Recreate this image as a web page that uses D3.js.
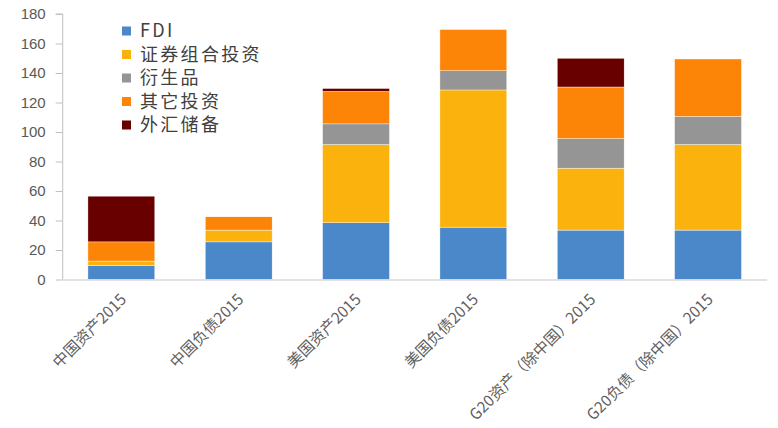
<!DOCTYPE html>
<html><head><meta charset="utf-8">
<script src="https://cdn.jsdelivr.net/npm/d3@7"></script>
<style>body{margin:0;background:#fff}svg{display:block}</style>
</head><body>
<svg id="c" width="778" height="428"></svg>
<script>
const categories = ["中国资产2015","中国负债2015","美国资产2015","美国负债2015","G20资产（除中国）2015","G20负债（除中国）2015"];
const seriesNames = ["FDI","证券组合投资","衍生品","其它投资","外汇储备"];
const fdi = [9.5, 25.5, 38.5, 35.5, 33.5, 33.5];
const portfolio = [3, 8, 53, 93, 42, 58];
const derivatives = [0, 0, 14, 13, 20, 19];
const otherInv = [13, 9, 22, 28, 35, 39];
const reserves = [31, 0, 2, 0, 19.5, 0];
const yTicks = [0,20,40,60,80,100,120,140,160,180];
const colors = ["#4A88CA","#FBB20C","#959595","#FC8508","#690000"];

const seriesVals = [fdi, portfolio, derivatives, otherInv, reserves];
const table = categories.map((c,i)=>{const o={cat:c}; seriesNames.forEach((s,j)=>o[s]=seriesVals[j][i]); return o;});
const stacked = d3.stack().keys(seriesNames)(table);

const svg = d3.select("#c");
const mLeft = 62.7, mRight = 766.7, mTop = 14, mBottom = 279.5;
const x = d3.scaleBand().domain(categories).range([mLeft,mRight]).paddingInner(0.43).paddingOuter(0.215);
const y = d3.scaleLinear().domain([0,180]).range([mBottom, mTop]);

// y axis
const ya = svg.append("g").attr("transform",`translate(${mLeft},0)`)
  .call(d3.axisLeft(y).tickValues(yTicks).tickSize(7).tickPadding(10));
ya.select(".domain").attr("stroke","#bfbfbf").attr("d",`M-7,${y(180)}H0V${y(0)}`);
ya.selectAll(".tick line").attr("stroke","#bfbfbf");
ya.selectAll(".tick text").attr("fill","#595959").style("font-family","'Liberation Sans',Arial,sans-serif").style("font-size","15px");

// bars
svg.append("g").selectAll("g").data(stacked).join("g").attr("fill",(d,i)=>colors[i])
  .selectAll("rect").data(d=>d).join("rect")
  .attr("x",d=>x(d.data.cat)).attr("width",x.bandwidth())
  .attr("y",d=>y(d[1])).attr("height",d=>Math.max(0,y(d[0])-y(d[1])))
  .attr("stroke","#fff").attr("stroke-width",0.4);

// x axis
const xa = svg.append("g").attr("transform",`translate(0,${mBottom})`)
  .call(d3.axisBottom(x).tickSize(0).tickPadding(0));
xa.select(".domain").attr("stroke","#d9d9d9").attr("stroke-width",1.5);
xa.selectAll(".tick text").attr("fill","#5f5f5f")
  .style("font-family","'Noto Sans CJK SC',sans-serif").style("font-size","15.5px")
  .attr("text-anchor","end").attr("dy",null).attr("y",0)
  .attr("transform","translate(6,21) rotate(-45)");

// legend
const lg = svg.append("g").attr("transform","translate(122,31)");
seriesNames.forEach((s,i)=>{
  const g = lg.append("g").attr("transform",`translate(0,${i*23.5})`);
  g.append("rect").attr("x",0).attr("y",-4.5).attr("width",9).attr("height",9).attr("fill",colors[i]);
  g.append("text").attr("x",18).attr("y",0).attr("dy","0.35em").attr("fill","#404040")
    .style("font-family","'Noto Sans CJK SC',sans-serif").style("font-size","18px").style("letter-spacing","2.3px").text(s);
});
</script>
</body></html>
